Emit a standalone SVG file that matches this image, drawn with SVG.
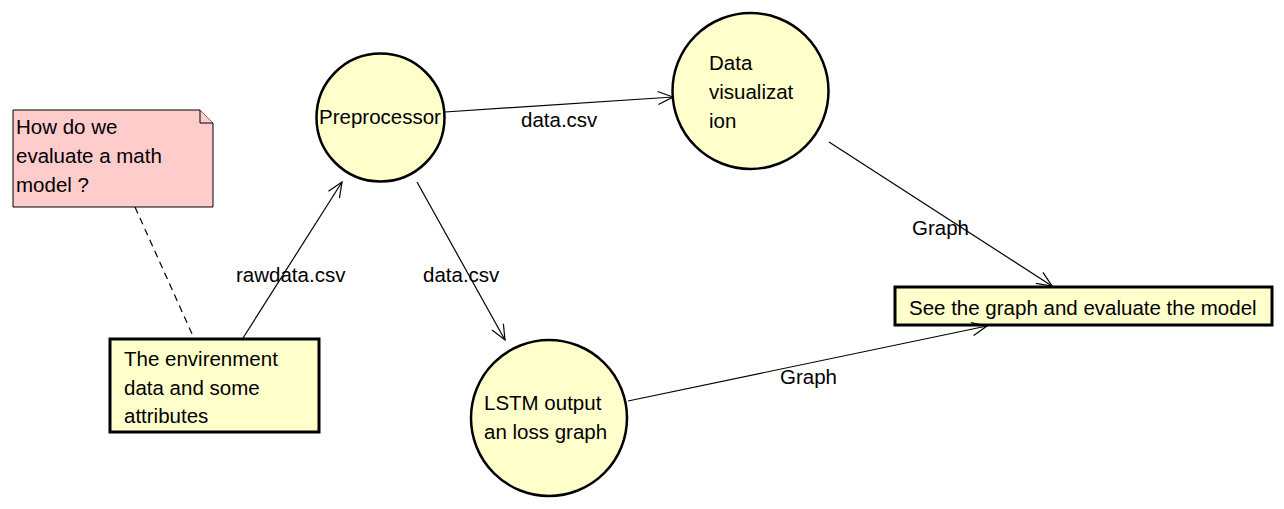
<svg xmlns="http://www.w3.org/2000/svg" width="1284" height="509" viewBox="0 0 1284 509">
<defs>
<style>
text{font-family:"Liberation Sans",Arial,sans-serif;font-size:20.5px;fill:#000}
.node{fill:#ffffcc;stroke:#000;stroke-width:2.5}
.box{fill:#ffffcc;stroke:#000;stroke-width:3}
.note{fill:#ffcccc;stroke:#000;stroke-width:1}
.edge{fill:none;stroke:#000;stroke-width:1.2}
.dash{fill:none;stroke:#000;stroke-width:1.2;stroke-dasharray:7,5}
</style>
<marker id="arr" viewBox="-16 -8 18 16" refX="0" refY="0" markerWidth="18" markerHeight="16" markerUnits="userSpaceOnUse" orient="auto">
<path d="M-15,-6.5 L0,0 L-15,6.5" fill="none" stroke="#000" stroke-width="1.2"/>
</marker>
</defs>
<rect width="1284" height="509" fill="#fff"/>
<g id="note">
<path class="note" d="M13,110 H200 L213,123 V207 H13 Z"/>
<path class="note" d="M200,110 V123 H213" fill="none"/>
<text x="16" y="134">How do we</text>
<text x="16" y="163">evaluate a math</text>
<text x="16" y="192">model ?</text>
</g>
<g id="environment">
<rect class="box" x="110" y="339" width="209" height="93"/>
<text x="124" y="366">The envirenment</text>
<text x="124" y="395">data and some</text>
<text x="124" y="423">attributes</text>
</g>
<g id="preprocessor">
<circle class="node" cx="380.5" cy="117.5" r="64"/>
<text x="319" y="124">Preprocessor</text>
</g>
<g id="datavis">
<circle class="node" cx="750.5" cy="91" r="78"/>
<text x="709" y="70">Data</text>
<text x="709" y="99">visualizat</text>
<text x="709" y="128">ion</text>
</g>
<g id="lstm">
<circle class="node" cx="549" cy="418" r="78"/>
<text x="484" y="410">LSTM output</text>
<text x="484" y="439">an loss graph</text>
</g>
<g id="evaluate">
<rect class="box" x="895" y="287" width="377" height="38"/>
<text x="909" y="315">See the graph and evaluate the model</text>
</g>
<g id="connectors">
<line class="dash" x1="135" y1="207" x2="193" y2="336"/>
<line class="edge" x1="243" y1="338" x2="342" y2="182" marker-end="url(#arr)"/>
<line class="edge" x1="445" y1="112" x2="673" y2="97" marker-end="url(#arr)"/>
<line class="edge" x1="417" y1="182" x2="505" y2="340" marker-end="url(#arr)"/>
<line class="edge" x1="829" y1="142" x2="1052" y2="286" marker-end="url(#arr)"/>
<line class="edge" x1="628" y1="401" x2="987" y2="326" marker-end="url(#arr)"/>
<text x="236" y="282">rawdata.csv</text>
<text x="521" y="127">data.csv</text>
<text x="423" y="282">data.csv</text>
<text x="912" y="235">Graph</text>
<text x="780" y="384">Graph</text>
</g>
</svg>
